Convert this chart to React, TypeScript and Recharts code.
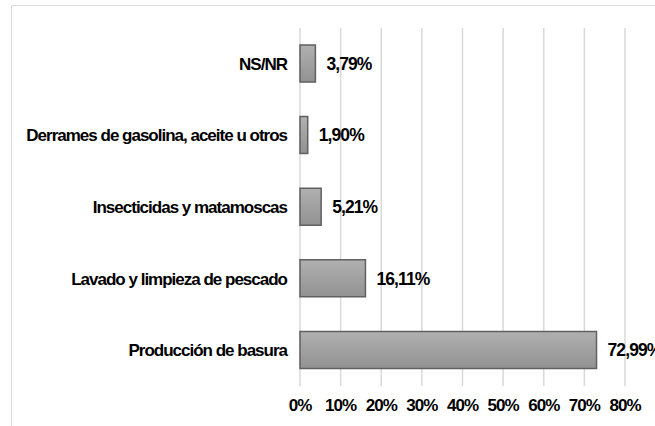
import React from "react"
import { BarChart, Bar, XAxis, YAxis, CartesianGrid, LabelList } from "recharts"

const categories = [
  "NS/NR",
  "Derrames de gasolina, aceite u otros",
  "Insecticidas y matamoscas",
  "Lavado y limpieza de pescado",
  "Producción de basura",
]
const percentages = [3.79, 1.9, 5.21, 16.11, 72.99]
const xTicks = [0, 10, 20, 30, 40, 50, 60, 70, 80]

const data = categories.map((name, i) => ({ name, value: percentages[i] }))

const FONT = "'Liberation Sans', Arial, sans-serif"

const formatValue = (v: number) => v.toFixed(2).replace(".", ",") + "%"

export default function App() {
  return (
    <div style={{ position: "fixed", left: 0, top: 0, width: 655, height: 426, overflow: "hidden", background: "#fff" }}>
      <div
        style={{
          position: "absolute",
          left: 11,
          top: 5,
          width: 700,
          height: 500,
          borderLeft: "1.5px solid #d9d9d9",
          borderTop: "1.5px solid #d9d9d9",
        }}
      />
      <div style={{ position: "absolute", left: 0, top: 0 }}>
        <BarChart
          width={655}
          height={426}
          data={data}
          layout="vertical"
          margin={{ top: 28, right: 30, left: 0, bottom: 0 }}
          barSize={37}
        >
          <defs>
            <linearGradient id="barFill" x1="0" y1="0" x2="0" y2="1">
              <stop offset="0%" stopColor="#b0b0b0" />
              <stop offset="100%" stopColor="#929292" />
            </linearGradient>
          </defs>
          <CartesianGrid horizontal={false} stroke="#d9d9d9" strokeWidth={1.5} />
          <XAxis
            type="number"
            domain={[0, 80]}
            ticks={xTicks}
            tickFormatter={(v) => `${v}%`}
            axisLine={false}
            tickLine={false}
            tickSize={0}
            tickMargin={13}
            height={40}
            interval={0}
            tick={{ fontSize: 17, fontWeight: 700, fill: "#000", fontFamily: FONT, letterSpacing: -1 }}
          />
          <YAxis
            type="category"
            dataKey="name"
            width={300}
            axisLine={false}
            tickLine={false}
            tickSize={0}
            tickMargin={13}
            interval={0}
            tick={{ fontSize: 17, fontWeight: 700, fill: "#000", fontFamily: FONT, letterSpacing: -1 }}
          />
          <Bar dataKey="value" fill="url(#barFill)" stroke="#606060" strokeWidth={1.5} isAnimationActive={false}>
            <LabelList
              dataKey="value"
              position="right"
              offset={11}
              formatter={(v: any) => formatValue(Number(v))}
              style={{ fontSize: 17.5, fontWeight: 700, fill: "#000", fontFamily: FONT, letterSpacing: -0.9 }}
            />
          </Bar>
        </BarChart>
      </div>
    </div>
  )
}
